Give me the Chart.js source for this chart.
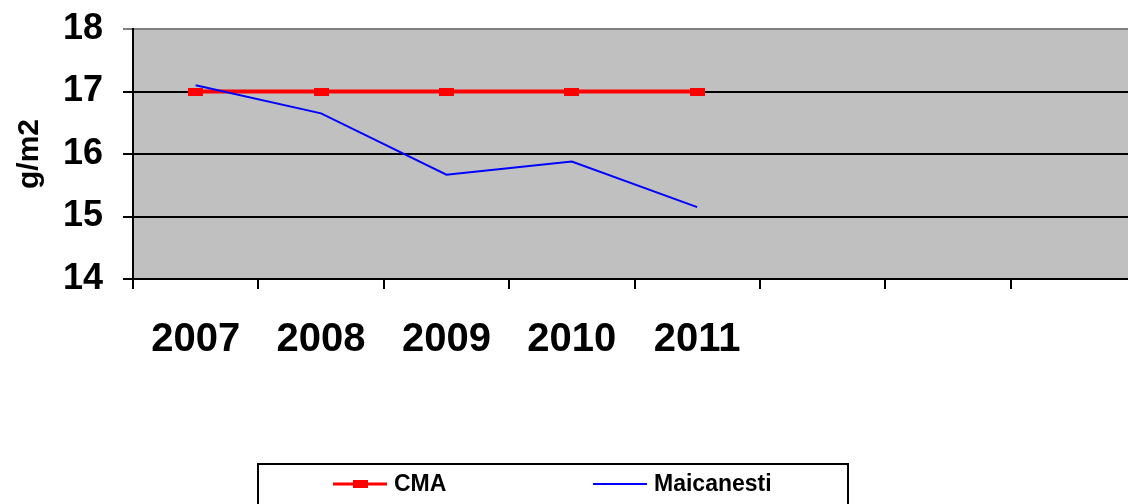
<!DOCTYPE html>
<html>
<head>
<meta charset="utf-8">
<script src="https://cdn.jsdelivr.net/npm/chart.js@4/dist/chart.umd.min.js"></script>
<style>
  html, body { margin: 0; padding: 0; background: #fff; overflow: hidden; }
  canvas { display: block; }
</style>
</head>
<body>
<canvas id="chart" width="1145" height="504"></canvas>
<script>
const years = ['2007', '2008', '2009', '2010', '2011', '', '', ''];
const cmaValues = [17, 17, 17, 17, 17, null, null, null];
const maicanestiValues = [17.1, 16.65, 15.67, 15.88, 15.15, null, null, null];
const yTicks = [14, 15, 16, 17, 18];

const FONT = "'Liberation Sans', Arial, sans-serif";

// small red bar used as CMA marker
const marker = document.createElement('canvas');
marker.width = 15; marker.height = 8;
const mctx = marker.getContext('2d');
mctx.fillStyle = '#ff0000';
mctx.fillRect(0, 0, 15, 8);

const plotBg = {
  id: 'plotBg',
  beforeDraw(chart) {
    const { ctx, chartArea: a } = chart;
    ctx.save();
    ctx.fillStyle = '#c0c0c0';
    ctx.fillRect(a.left, a.top, a.right - a.left, a.bottom - a.top);
    ctx.restore();
  }
};

const boxLegend = {
  id: 'boxLegend',
  afterDraw(chart) {
    const ctx = chart.ctx;
    const ds = chart.data.datasets;
    ctx.save();
    ctx.strokeStyle = '#000';
    ctx.lineWidth = 2;
    ctx.strokeRect(258, 464, 590, 60);
    ctx.font = 'bold 23px ' + FONT;
    ctx.textBaseline = 'middle';
    ctx.fillStyle = '#000';
    const items = [
      { d: ds.find(d => d.label === 'CMA'), x: 333 },
      { d: ds.find(d => d.label === 'Maicanesti'), x: 593 }
    ];
    items.forEach(it => {
      ctx.strokeStyle = it.d.borderColor;
      ctx.lineWidth = it.d.label === 'CMA' ? 3 : 2;
      ctx.beginPath();
      ctx.moveTo(it.x, 484);
      ctx.lineTo(it.x + 54, 484);
      ctx.stroke();
      if (it.d.label === 'CMA') ctx.drawImage(marker, it.x + 20, 480);
      ctx.fillText(it.d.label, it.x + 61, 485);
    });
    ctx.restore();
  }
};

new Chart(document.getElementById('chart').getContext('2d'), {
  type: 'line',
  data: {
    labels: years,
    datasets: [{
      label: 'CMA',
      data: cmaValues,
      borderColor: '#ff0000',
      backgroundColor: '#ff0000',
      borderWidth: 4,
      pointStyle: marker,
      pointRadius: 5,
      tension: 0,
      order: 1
    }, {
      label: 'Maicanesti',
      data: maicanestiValues,
      borderColor: '#0000ff',
      backgroundColor: '#0000ff',
      borderWidth: 2,
      pointRadius: 0,
      tension: 0,
      order: 0
    }]
  },
  options: {
    responsive: false,
    animation: false,
    devicePixelRatio: 1,
    layout: { padding: { top: 29, right: 2, left: 0, bottom: 0 } },
    plugins: {
      legend: { display: false },
      tooltip: { enabled: false }
    },
    scales: {
      x: {
        offset: true,
        afterFit(s) { s.height = 225; s.paddingLeft = 0; s.paddingRight = 0; },
        grid: {
          offset: true,
          drawOnChartArea: false,
          tickLength: 10,
          color: '#000',
          lineWidth: 2
        },
        border: { color: '#000', width: 2 },
        ticks: {
          color: '#000',
          font: { family: FONT, size: 40, weight: 'bold' },
          padding: 27,
          maxRotation: 0,
          autoSkip: false
        }
      },
      y: {
        min: yTicks[0],
        max: yTicks[yTicks.length - 1],
        afterFit(s) { s.width = 133; s.paddingTop = 0; s.paddingBottom = 0; },
        afterBuildTicks(s) { s.ticks = yTicks.map(v => ({ value: v })); },
        grid: {
          tickLength: 10,
          color: ctx => (ctx.tick && ctx.tick.value === 18) ? '#808080' : '#000',
          lineWidth: 2
        },
        border: { color: '#000', width: 2 },
        ticks: {
          color: '#000',
          font: { family: FONT, size: 36, weight: 'bold' },
          padding: 20
        },
        title: {
          display: true,
          text: 'g/m2',
          color: '#000',
          font: { family: FONT, size: 30, weight: 'bold' },
          padding: { top: 12, bottom: 0 }
        }
      }
    }
  },
  plugins: [plotBg, boxLegend]
});
</script>
</body>
</html>
